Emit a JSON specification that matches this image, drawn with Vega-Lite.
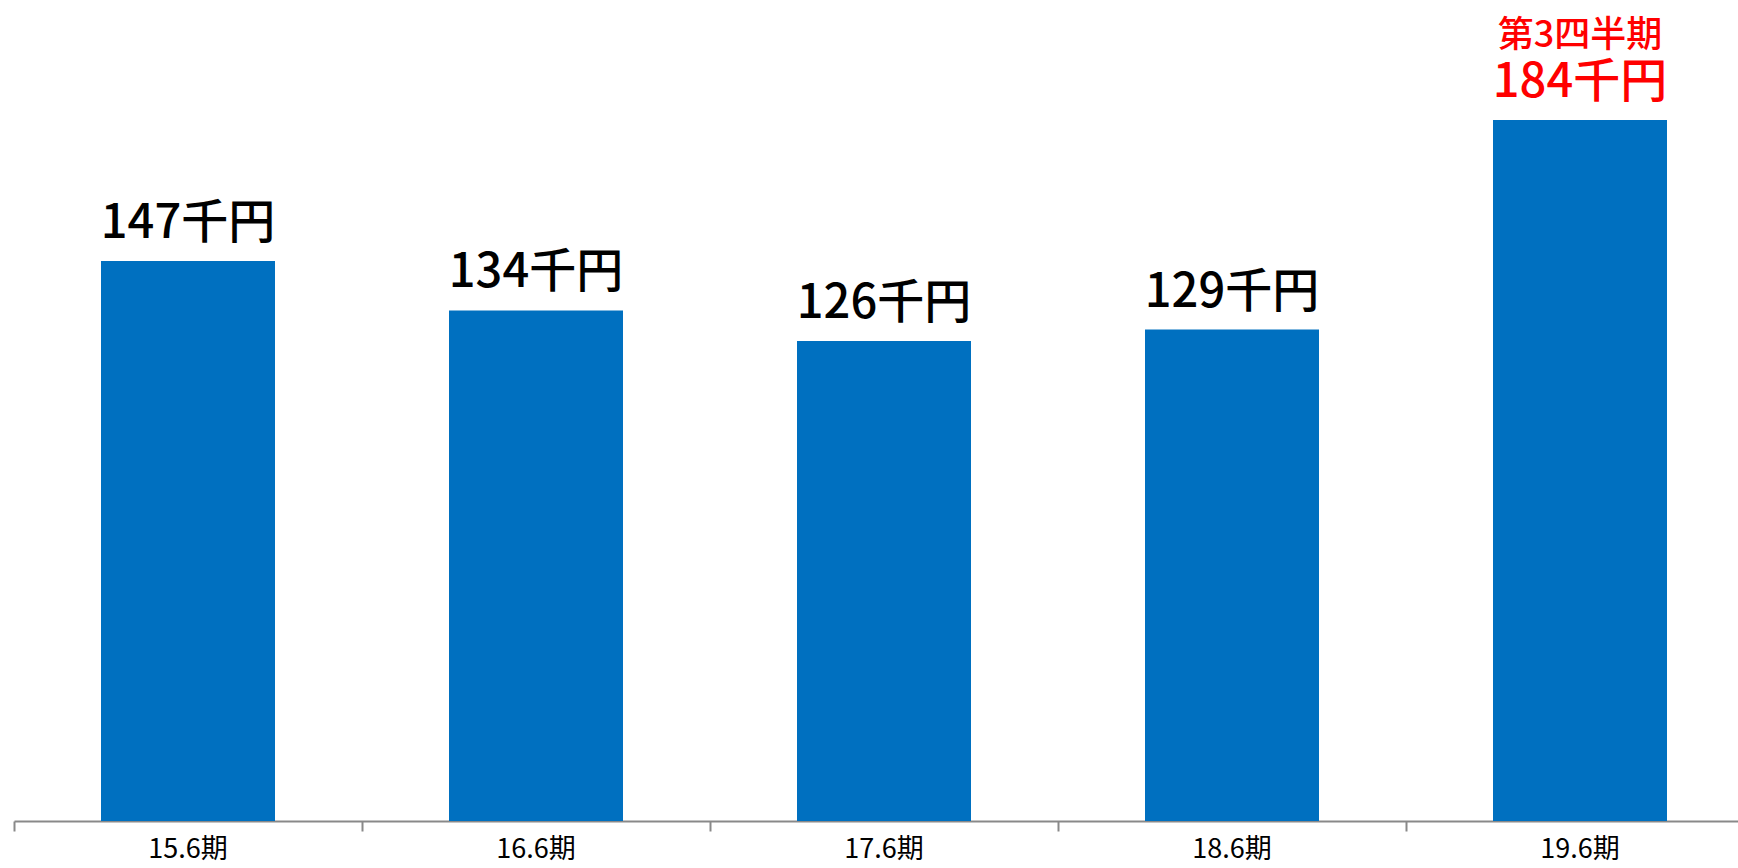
{
  "$schema": "https://vega.github.io/schema/vega-lite/v6.json",
  "autosize": {"type": "none"},
  "padding": {"left": 14, "top": 59, "right": 0, "bottom": 47},
  "width": 1740,
  "height": 762,
  "background": "#ffffff",
  "config": {"view": {"stroke": null}},
  "data": {
    "values": [
      {"period": "15.6期", "value": 147, "label": "147千円", "note": ""},
      {"period": "16.6期", "value": 134, "label": "134千円", "note": ""},
      {"period": "17.6期", "value": 126, "label": "126千円", "note": ""},
      {"period": "18.6期", "value": 129, "label": "129千円", "note": ""},
      {"period": "19.6期", "value": 184, "label": "184千円", "note": "第3四半期"}
    ]
  },
  "encoding": {
    "x": {
      "field": "period",
      "type": "nominal",
      "sort": null,
      "scale": {"paddingInner": 0.5, "paddingOuter": 0.25},
      "axis": {
        "title": null,
        "labelAngle": 0,
        "labelFont": "Noto Sans CJK JP",
        "labelFontSize": 27,
        "labelColor": "#000000",
        "labelPadding": 5,
        "domainColor": "#898989",
        "domainWidth": 2,
        "tickColor": "#898989",
        "tickWidth": 2,
        "tickSize": 10,
        "bandPosition": -0.5,
        "grid": false
      }
    },
    "y": {
      "field": "value",
      "type": "quantitative",
      "scale": {"domain": [0, 200], "nice": false},
      "axis": null
    }
  },
  "layer": [
    {"mark": {"type": "bar", "color": "#0070C0"}},
    {
      "mark": {"type": "text", "baseline": "alphabetic", "dy": -23, "fontSize": 47, "font": "Noto Sans CJK JP", "fontWeight": 500},
      "encoding": {
        "text": {"field": "label"},
        "color": {
          "condition": {"test": "datum.period === '19.6期'", "value": "#FF0000"},
          "value": "#000000"
        }
      }
    },
    {
      "mark": {"type": "text", "baseline": "alphabetic", "dy": -73, "fontSize": 36, "font": "Noto Sans CJK JP", "fontWeight": 500, "color": "#FF0000"},
      "encoding": {"text": {"field": "note"}}
    }
  ]
}
